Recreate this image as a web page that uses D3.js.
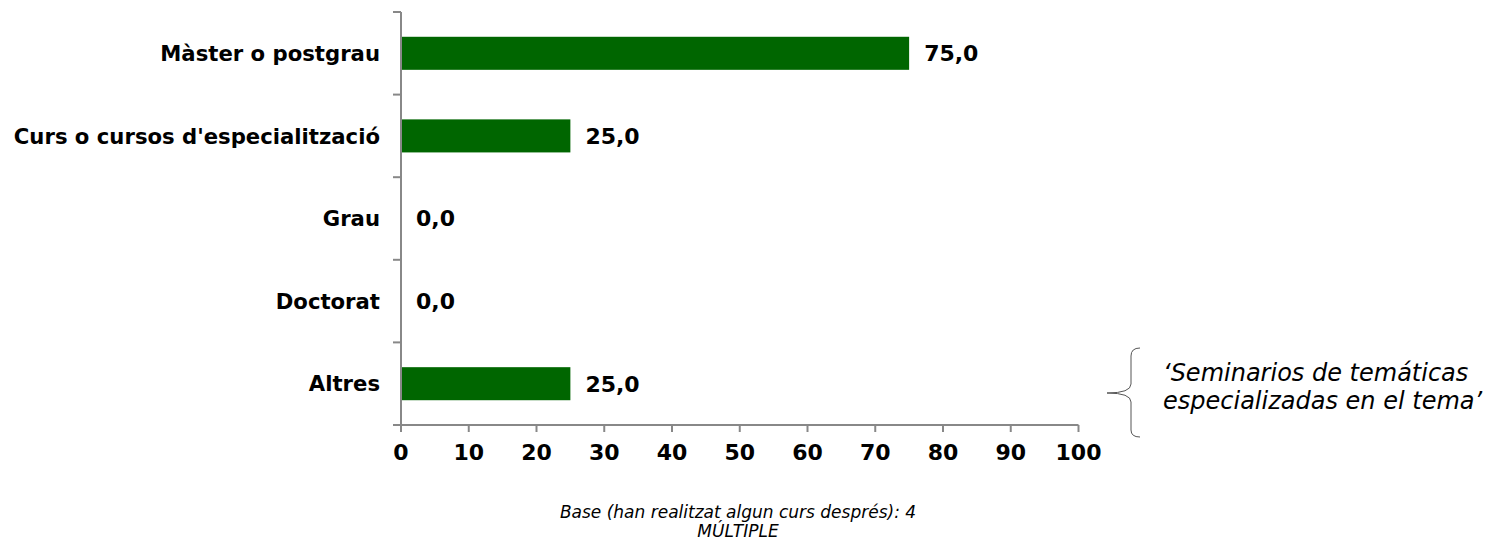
<!DOCTYPE html>
<html><head><meta charset="utf-8">
<script src="https://cdn.jsdelivr.net/npm/d3@7"></script>
<style>body{margin:0;background:#fff;} text{font-family:"DejaVu Sans",Verdana,sans-serif;}</style>
</head><body>
<svg id="c" width="1490" height="544"></svg>
<script>
const categories = ["Màster o postgrau","Curs o cursos d'especialització","Grau","Doctorat","Altres"];
const values = [75.0, 25.0, 0.0, 0.0, 25.0];
const xTicks = [0,10,20,30,40,50,60,70,80,90,100];
const noteLines = ["‘Seminarios de temáticas","especializadas en el tema’"];
const footLines = ["Base (han realitzat algun curs després): 4","MÚLTIPLE"];

const svg = d3.select("#c");
const x = d3.scaleLinear().domain([0,100]).range([401,1078.5]);
const y = d3.scaleBand().domain(categories).range([12,425]).paddingInner(0.6).paddingOuter(0.3);
const axisColor = "#888";

// bars
svg.selectAll("rect.bar").data(categories).enter().append("rect")
  .attr("x", x(0)).attr("y", d=>y(d))
  .attr("width", (d,i)=>x(values[i])-x(0)).attr("height", y.bandwidth())
  .attr("fill","#006600");

// value labels
svg.selectAll("text.val").data(categories).enter().append("text")
  .attr("x",(d,i)=>x(values[i])+15).attr("y",d=>y(d)+y.bandwidth()/2)
  .attr("dy","0.36em").attr("font-weight","bold").attr("font-size","22px").attr("fill","#000")
  .text((d,i)=>values[i].toFixed(1).replace(".",","));

// y axis
const bands = d3.range(categories.length+1).map(i=>12+i*(425-12)/categories.length);
svg.append("line").attr("x1",x(0)).attr("x2",x(0)).attr("y1",12).attr("y2",425).attr("stroke",axisColor).attr("stroke-width",2);
bands.forEach(b=>svg.append("line").attr("x1",x(0)-8).attr("x2",x(0)).attr("y1",b).attr("y2",b).attr("stroke",axisColor).attr("stroke-width",2));
// category labels
svg.selectAll("text.cat").data(categories).enter().append("text")
  .attr("x",380).attr("y",d=>y(d)+y.bandwidth()/2).attr("dy","0.36em")
  .attr("text-anchor","end").attr("font-weight","bold").attr("font-size","21.2px").text(d=>d);

// x axis
svg.append("line").attr("x1",x(0)-8).attr("x2",x(100)).attr("y1",425).attr("y2",425).attr("stroke",axisColor).attr("stroke-width",2);
xTicks.forEach(t=>svg.append("line").attr("x1",x(t)).attr("x2",x(t)).attr("y1",425).attr("y2",432).attr("stroke",axisColor).attr("stroke-width",2));
svg.selectAll("text.xt").data(xTicks).enter().append("text")
  .attr("x",d=>x(d)).attr("y",452).attr("dy","0.36em").attr("text-anchor","middle")
  .attr("font-weight","bold").attr("font-size","22px").text(d=>d);

// bracket
svg.append("path").attr("d","M1140,348 Q1131,348 1131,356 L1131,384 Q1131,393 1107,393 Q1131,393 1131,402 L1131,430 Q1131,437 1140,437")
  .attr("fill","none").attr("stroke","#555").attr("stroke-width",1);
svg.selectAll("text.note").data(noteLines).enter().append("text")
  .attr("x",1163).attr("y",(d,i)=>372+i*28).attr("dy","0.36em")
  .attr("font-style","italic").attr("font-size","24px").text(d=>d);

// footer
svg.selectAll("text.foot").data(footLines).enter().append("text")
  .attr("x",738).attr("y",(d,i)=>512+i*19).attr("dy","0.36em").attr("text-anchor","middle")
  .attr("font-style","italic").attr("font-size","17px").text(d=>d);
</script>
</body></html>
